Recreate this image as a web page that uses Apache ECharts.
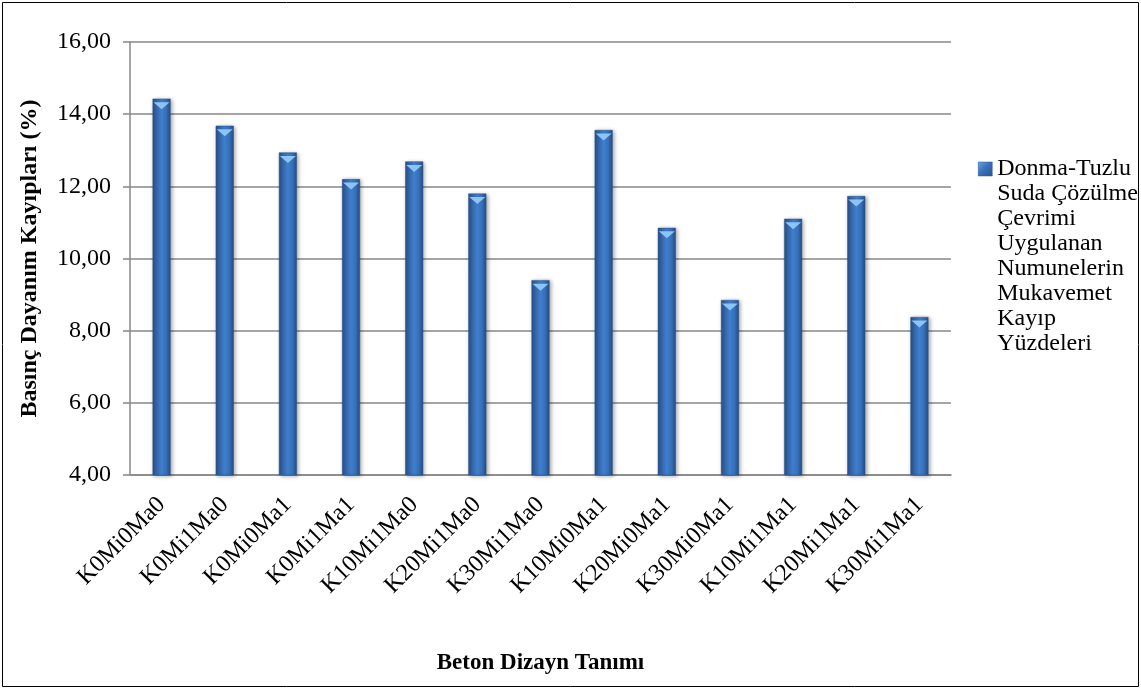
<!DOCTYPE html>
<html>
<head>
<meta charset="utf-8">
<script src="https://cdn.jsdelivr.net/npm/echarts@6/dist/echarts.min.js"></script>
<style>
  html, body { margin: 0; padding: 0; background: #fff; }
  #chart { width: 1141px; height: 688px; }
</style>
</head>
<body>
<div id="chart"></div>
<script>
// Beton dizaynları (x ekseni)
const categories = [
  'K0Mi0Ma0', 'K0Mi1Ma0', 'K0Mi0Ma1', 'K0Mi1Ma1', 'K10Mi1Ma0', 'K20Mi1Ma0',
  'K30Mi1Ma0', 'K10Mi0Ma1', 'K20Mi0Ma1', 'K30Mi0Ma1', 'K10Mi1Ma1', 'K20Mi1Ma1', 'K30Mi1Ma1'
];
// Basınç dayanımı kayıpları (%)
const losses = [14.43, 13.68, 12.94, 12.20, 12.69, 11.80, 9.40, 13.56, 10.85, 8.85, 11.10, 11.73, 8.38];
const seriesName = 'Donma-Tuzlu Suda Çözülme Çevrimi Uygulanan Numunelerin Mukavemet Kayıp Yüzdeleri';
const legendLines = ['Donma-Tuzlu', 'Suda Çözülme', 'Çevrimi', 'Uygulanan', 'Numunelerin', 'Mukavemet', 'Kayıp', 'Yüzdeleri'];
const yTitle = 'Basınç Dayanım Kayıpları (%)';
const xTitle = 'Beton Dizayn Tanımı';

const FONT = '"Liberation Serif", "Times New Roman", serif';
const GRID_GRAY = '#878787';
const LEGEND_LINE_H = 25;
const LEGEND_ICON_Y = 169;

// Legend text is vertically centred on its icon, so empty lines are put
// in front to keep the icon beside the first line of the wrapped name.
const padLines = legendLines.length - 1;
const legendText = '\n'.repeat(padLines) + legendLines.join('\n');
const legendTop = LEGEND_ICON_Y - (padLines + legendLines.length) * LEGEND_LINE_H / 2;

const barFill = new echarts.graphic.LinearGradient(0, 0, 1, 0, [
  { offset: 0, color: '#284f86' },
  { offset: 0.25, color: '#3769b0' },
  { offset: 0.5, color: '#3f7fcd' },
  { offset: 0.75, color: '#3670ba' },
  { offset: 1, color: '#264c82' }
]);

const chart = echarts.init(document.getElementById('chart'), null, { renderer: 'canvas' });

chart.setOption({
  backgroundColor: '#ffffff',
  animation: false,
  textStyle: { fontFamily: FONT },
  grid: { left: 130, right: 190, top: 42, bottom: 213, containLabel: false },
  graphic: [{
    type: 'rect',
    shape: { x: 2.5, y: 2.5, width: 1136, height: 684 },
    style: { fill: 'none', stroke: '#000', lineWidth: 1 },
    silent: true
  }],
  legend: {
    left: 978,
    top: legendTop,
    padding: 0,
    orient: 'vertical',
    itemWidth: 14,
    itemHeight: 14,
    itemGap: 0,
    icon: 'rect',
    data: [seriesName],
    itemStyle: {
      color: new echarts.graphic.LinearGradient(0, 0, 1, 1, [
        { offset: 0, color: '#6fa6e6' },
        { offset: 0.45, color: '#3a72bc' },
        { offset: 1, color: '#2a568f' }
      ]),
      borderColor: '#2a578f',
      borderWidth: 0.5
    },
    formatter: () => legendText,
    textStyle: {
      fontFamily: FONT,
      fontSize: 24,
      color: '#000',
      lineHeight: LEGEND_LINE_H
    }
  },
  xAxis: {
    type: 'category',
    data: categories,
    name: xTitle,
    nameLocation: 'middle',
    nameGap: 177,
    nameTextStyle: { fontFamily: FONT, fontSize: 23, fontWeight: 'bold', color: '#000' },
    axisLine: { show: true, lineStyle: { color: GRID_GRAY, width: 1.5 } },
    axisTick: { show: false },
    axisLabel: {
      interval: 0,
      rotate: 45,
      margin: 26,
      fontFamily: FONT,
      fontSize: 24,
      color: '#000'
    }
  },
  yAxis: {
    type: 'value',
    min: 4,
    max: 16,
    interval: 2,
    name: yTitle,
    nameLocation: 'middle',
    nameGap: 88,
    nameTextStyle: { fontFamily: FONT, fontSize: 24, fontWeight: 'bold', color: '#000' },
    axisLine: { show: true, lineStyle: { color: GRID_GRAY, width: 1.5 } },
    axisTick: { show: true, inside: false, length: 7, lineStyle: { color: GRID_GRAY, width: 1.5 } },
    splitLine: { show: true, lineStyle: { color: GRID_GRAY, width: 1.5 } },
    axisLabel: {
      margin: 19,
      fontFamily: FONT,
      fontSize: 24,
      color: '#000',
      formatter: v => v.toFixed(2).replace('.', ',')
    }
  },
  series: [
    {
      name: seriesName,
      type: 'bar',
      data: losses,
      barWidth: 18,
      itemStyle: {
        color: barFill,
        borderColor: '#2b5689',
        borderWidth: 0.5,
        shadowColor: 'rgba(0,0,0,0.35)',
        shadowBlur: 4,
        shadowOffsetX: 1.5,
        shadowOffsetY: 1
      },
      z: 2
    },
    {
      // bevelled cap on top of each column
      name: seriesName,
      type: 'pictorialBar',
      data: losses,
      barWidth: 18,
      barGap: '-100%',
      symbol: 'triangle',
      symbolRotate: 180,
      symbolSize: [16, 7],
      symbolPosition: 'end',
      symbolOffset: [0, '50%'],
      itemStyle: { color: '#8cc4f5' },
      silent: true,
      legendHoverLink: false,
      z: 3
    }
  ]
});
</script>
</body>
</html>
